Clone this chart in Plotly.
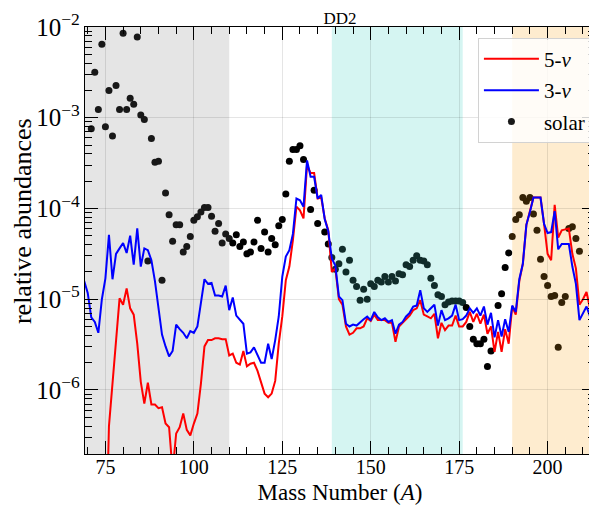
import numpy as np
import plotly.graph_objects as go

# ---------------- data (log10 of relative abundance) ----------------
mass_A = list(range(69, 215))

blue_3nu_log = [
    -4.80, -4.93, -5.20, -5.25, -5.37, -5.00, -4.77, -4.29, -4.78, -4.50,
    -4.44, -4.38, -4.49, -4.30, -4.62, -4.22, -4.64, -4.44, -4.46, -4.57,
    -4.80, -5.09, -5.39, -5.52, -5.63, -5.57, -5.28, -5.33, -5.37, -5.43,
    -5.35, -5.37, -5.30, -5.04, -4.78, -4.83, -4.82, -4.96, -4.96, -4.97,
    -4.85, -5.12, -4.98, -5.18, -5.22, -5.27, -5.60, -5.585, -5.53, -5.62,
    -5.70, -5.70, -5.49, -5.66, -5.45, -5.19, -4.75, -4.53, -4.46, -4.28,
    -3.89, -3.91, -3.98, -3.47, -3.65, -3.65, -3.89, -3.85, -4.12, -4.25,
    -4.55, -4.63, -4.97, -5.01, -5.27, -5.30, -5.28, -5.29, -5.25, -5.22,
    -5.19, -5.23, -5.14, -5.20, -5.23, -5.21, -5.25, -5.23, -5.38, -5.28,
    -5.25, -5.19, -5.15, -5.08, -5.07, -4.90, -5.10, -5.14, -5.10, -5.06,
    -5.29, -5.12, -5.23, -5.21, -5.18, -5.06, -5.23, -5.22, -5.18, -5.10,
    -5.15, -5.10, -5.18, -5.08, -5.28, -5.15, -5.42, -5.23, -5.41, -5.22,
    -5.36, -5.07, -5.14, -4.78, -4.61, -4.18, -4.04, -3.88, -3.88, -3.88,
    -4.17, -4.27, -4.26, -4.03, -4.45, -4.39, -4.39, -4.39, -4.64, -4.83,
    -5.23, -5.15, -5.08, -5.19, -5.32, -5.35,
]

red_5nu_log = [
    -8.00, -8.00, -8.00, -8.00, -8.00, -8.00, -8.00, -6.40, -5.93, -5.46,
    -4.99, -5.06, -4.88, -5.10, -5.17, -5.49, -5.91, -6.15, -5.92, -6.16,
    -6.16, -6.20, -6.19, -6.37, -6.41, -6.90, -6.48, -6.41, -6.26, -6.44,
    -6.50, -6.37, -6.26, -5.93, -5.52, -5.45, -5.45, -5.43, -5.43, -5.44,
    -5.44, -5.62, -5.60, -5.70, -5.72, -5.57, -5.74, -5.71, -5.70, -5.79,
    -5.92, -6.04, -6.08, -6.04, -5.90, -5.49, -5.19, -4.79, -4.64, -4.35,
    -3.98, -4.02, -4.11, -3.52, -3.61, -3.61, -3.89, -3.88, -4.11, -4.24,
    -4.70, -4.66, -5.00, -5.06, -5.30, -5.39, -5.37, -5.32, -5.32, -5.30,
    -5.21, -5.24, -5.17, -5.23, -5.23, -5.23, -5.26, -5.26, -5.47, -5.30,
    -5.26, -5.22, -5.18, -5.12, -5.10, -5.01, -5.17, -5.19, -5.21, -5.16,
    -5.43, -5.26, -5.34, -5.29, -5.29, -5.18, -5.30, -5.30, -5.25, -5.14,
    -5.25, -5.16, -5.27, -5.17, -5.38, -5.30, -5.58, -5.36, -5.58, -5.33,
    -5.49, -5.08, -5.17, -4.80, -4.61, -4.18, -4.04, -3.88, -3.88, -3.88,
    -4.17, -4.50, -4.57, -3.96, -4.32, -4.24, -4.23, -4.22, -4.50, -4.66,
    -5.06, -5.00, -4.92, -5.10, -5.19, -5.22,
]

solar_A = (list(range(71, 132)) + [133, 134, 135] + list(range(137, 185))
           + list(range(186, 210)))
solar_log = [
    -3.12, -2.50, -2.91, -2.19, -3.10, -2.70, -3.20, -2.645, -2.91, -2.07,
    -2.91, -2.785, -2.85, -2.11, -2.97, -3.02, -4.58, -3.23, -3.49, -3.48,
    -4.79, -3.83, -4.07, -4.36, -4.18, -4.18, -4.48, -4.42, -4.31, -4.13,
    -4.09, -4.04, -3.99, -3.99, -4.085, -4.25, -4.165, -4.38, -4.28, -4.33,
    -4.38, -4.29, -4.42, -4.37, -4.50, -4.48, -4.37, -4.13, -4.44, -4.26,
    -4.48, -4.33, -4.40, -4.19, -4.12, -3.84, -3.48, -3.35, -3.35, -3.31,
    -3.46,
    -4.01, -3.80, -4.165,
    -4.26, -4.39, -4.54, -4.67, -4.61, -4.45, -4.70, -4.57, -4.79, -4.86,
    -5.01, -4.89, -5.00, -4.83, -4.86, -4.79, -4.81, -4.75, -4.81, -4.75,
    -4.80, -4.72, -4.73, -4.62, -4.64, -4.57, -4.52, -4.57, -4.58, -4.62,
    -4.77, -4.85, -4.95, -4.97, -5.06, -5.03, -5.02, -5.02, -5.02, -5.035,
    -5.09, -5.30, -5.44, -5.49, -5.49, -5.44, -5.74, -5.57,
    -5.07, -4.94, -4.65, -4.49, -4.31, -4.12, -4.07, -3.88, -3.92, -3.88,
    -4.06, -4.24, -4.56, -4.75, -4.85, -4.97, -4.96, -5.53, -5.035, -4.97,
    -4.22, -4.20, -4.33, -4.47,
]

# shaded mass regions
region_bounds = [(69.23, 110), (139, 176), (190, 213.4)]
region_fills = ["rgb(229,229,229)", "rgb(213,245,242)", "rgb(254,236,207)"]
# dots lie under the translucent shading in the reference
region_dot = ["rgb(24,24,24)", "rgb(16,44,42)", "rgb(52,34,6)"]

x_range = [69.23, 213.4]
y_range = [np.log10(1.97e-7), -2]

FONT = "Liberation Serif"


def dot_color(a):
    for (lo, hi), c in zip(region_bounds, region_dot):
        if lo <= a <= hi:
            return c
    return "black"


fig = go.Figure()

for (lo, hi), fc in zip(region_bounds, region_fills):
    fig.add_shape(type="rect", xref="x", yref="paper", x0=lo, x1=hi, y0=0, y1=1,
                  fillcolor=fc, line=dict(width=0), layer="below")

fig.add_trace(go.Scatter(
    x=solar_A, y=[10 ** v for v in solar_log], mode="markers", name="solar",
    marker=dict(size=7, color=[dot_color(a) for a in solar_A], line=dict(width=0)),
    legendrank=3, legendgroup="c",
))
fig.add_trace(go.Scatter(
    x=mass_A, y=[10 ** v for v in red_5nu_log], mode="lines", name="5-<i>ν</i>",
    line=dict(color="rgb(255,0,0)", width=2), legendrank=1, legendgroup="a",
))
fig.add_trace(go.Scatter(
    x=mass_A, y=[10 ** v for v in blue_3nu_log], mode="lines", name="3-<i>ν</i>",
    line=dict(color="rgb(0,0,255)", width=2), legendrank=2, legendgroup="b",
))

axis_common = dict(
    showline=True, linecolor="black", linewidth=1.3, mirror="allticks",
    ticks="inside", ticklen=13, tickwidth=1.2, tickcolor="black",
    showgrid=True, gridcolor="rgba(0,0,0,0.10)", gridwidth=1, zeroline=False,
    tickfont=dict(family=FONT, size=20, color="black"), automargin=False,
)

fig.update_xaxes(
    range=x_range, tickmode="array", tickvals=[75, 100, 125, 150, 175, 200],
    minor=dict(ticks="inside", ticklen=7, tickcolor="black", tickwidth=1,
               dtick=5, tick0=0, showgrid=False),
    title=dict(text="Mass Number (<i>A</i>)", font=dict(family=FONT, size=23, color="black"),
               standoff=6),
    **axis_common,
)
fig.update_yaxes(
    type="log", range=y_range, dtick=1, exponentformat="power",
    minor=dict(ticks="inside", ticklen=7, tickcolor="black", tickwidth=1,
               dtick="D1", showgrid=False),
    **axis_common,
)
try:
    fig.update_xaxes(ticklabelstandoff=-5)
except Exception:
    pass

# y-axis label placed as a rotated text, matching the reference's position
fig.add_annotation(
    text="relative abundances", textangle=-90, xref="paper", yref="paper",
    x=-0.122, y=0.545, xanchor="center", yanchor="middle", showarrow=False,
    font=dict(family=FONT, size=26, color="black"),
)

# the page places the figure 8 px in from the top-left corner
fig.update_layout(
    width=589, height=502,
    margin=dict(l=77, r=2, t=19, b=56, autoexpand=False),
    paper_bgcolor="white", plot_bgcolor="white",
    title=dict(text="DD2", x=0.5, xanchor="center", xref="paper", y=0.980,
               yanchor="middle", automargin=False,
               font=dict(family=FONT, size=17, color="black")),
    font=dict(family=FONT, color="black"),
    showlegend=True,
    legend=dict(x=0.992, y=0.975, xanchor="right", yanchor="top",
                bgcolor="rgba(255,255,255,0.82)", bordercolor="rgb(210,210,210)",
                borderwidth=1, font=dict(family=FONT, size=21, color="black"),
                tracegroupgap=1, itemwidth=55),
)

fig.write_html("out.html")
